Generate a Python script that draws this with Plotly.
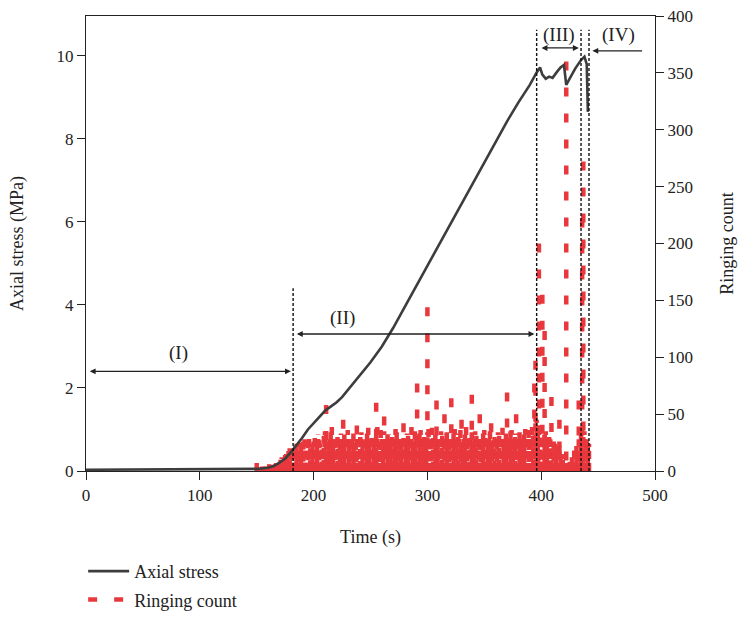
import plotly.graph_objects as go

# ---------------- data ----------------
stress_time = [0, 50, 100, 140, 150, 160, 165, 170, 175, 180, 185, 190, 195, 200, 205, 210,
               215, 220, 225, 230, 235, 240, 250, 260, 270, 280, 290, 300, 310, 320, 330,
               340, 350, 360, 370, 380, 390, 396, 399, 401, 404, 407, 410, 414, 417, 420,
               422, 425, 430, 435, 438, 440, 441]
stress_mpa = [0.03, 0.04, 0.04, 0.05, 0.05, 0.08, 0.12, 0.2, 0.3, 0.45, 0.62, 0.8, 1.0, 1.15,
              1.3, 1.45, 1.55, 1.65, 1.78, 1.95, 2.12, 2.3, 2.62, 3.0, 3.45, 3.95, 4.45, 4.95,
              5.45, 5.95, 6.45, 6.95, 7.45, 7.95, 8.42, 8.88, 9.3, 9.6, 9.72, 9.55, 9.45, 9.5,
              9.47, 9.62, 9.72, 9.78, 9.3, 9.45, 9.7, 9.9, 9.98, 9.8, 8.65]

# dense low-level acoustic emission (even seconds)
ring_time_even = [150, 152, 154, 156, 158, 160, 162, 164, 166, 168,
                  170, 172, 174, 176, 178, 180, 182, 184, 186, 188, 190, 192, 194, 196, 198,
                  200, 202, 204, 206, 208, 210, 212, 214, 216, 218, 220, 222, 224, 226, 228,
                  230, 232, 234, 236, 238,
                  240, 242, 244, 246, 248, 250, 252, 254, 256, 258, 260, 262, 264, 266, 268,
                  270, 272, 274, 276, 278,
                  280, 282, 284, 286, 288, 290, 292, 294, 296, 298, 300, 302, 304, 306, 308,
                  310, 312, 314, 316, 318,
                  320, 322, 324, 326, 328, 330, 332, 334, 336, 338, 340, 342, 344, 346, 348,
                  350, 352, 354, 356, 358,
                  360, 362, 364, 366, 368, 370, 372, 374, 376, 378, 380, 382, 384, 386, 388,
                  390, 392, 394, 396, 398,
                  400, 402, 404, 406, 408, 410, 412, 414, 416, 418, 420, 422, 424, 426, 428,
                  430, 432, 434, 436, 438, 440, 442]
ring_count_even = [10, 2, 3, 2, 4, 3, 5, 4, 6, 5,
                   8, 12, 10, 15, 18, 14, 20, 22, 17, 25, 19, 28, 22, 30, 24,
                   26, 20, 32, 24, 18, 35, 22, 28, 40, 25, 30, 21, 33, 27, 19, 36, 24, 29, 22, 31,
                   25, 34, 20, 28, 38, 23, 30, 26, 42, 21, 29, 35, 24, 32, 27, 20, 37, 25, 30, 22,
                   28, 33, 24, 40, 26, 31, 22, 36, 29, 25, 34, 27, 38, 23, 30, 26, 35, 21, 32, 28,
                   30, 24, 37, 27, 33, 22, 29, 40, 25, 31, 26, 35, 23, 30, 28, 36, 24, 32, 27, 21,
                   29, 34, 25, 38, 27, 31, 23, 36, 28, 33, 26, 30, 24, 37, 29, 35, 40, 32, 45, 38,
                   30, 25, 35, 22, 28, 18, 24, 20, 26, 15, 12, 8, 5, 6, 10, 14, 20, 26, 30, 35, 28, 24]

# dense low-level acoustic emission (odd seconds)
ring_time_odd = [151, 153, 155, 157, 159, 161, 163, 165, 167, 169,
                 171, 173, 175, 177, 179, 181, 183, 185, 187, 189, 191, 193, 195, 197, 199,
                 201, 203, 205, 207, 209, 211, 213, 215, 217, 219, 221, 223, 225, 227, 229,
                 231, 233, 235, 237, 239,
                 241, 243, 245, 247, 249, 251, 253, 255, 257, 259, 261, 263, 265, 267, 269,
                 271, 273, 275, 277, 279,
                 281, 283, 285, 287, 289, 291, 293, 295, 297, 299, 301, 303, 305, 307, 309,
                 311, 313, 315, 317, 319,
                 321, 323, 325, 327, 329, 331, 333, 335, 337, 339, 341, 343, 345, 347, 349,
                 351, 353, 355, 357, 359,
                 361, 363, 365, 367, 369, 371, 373, 375, 377, 379, 381, 383, 385, 387, 389,
                 391, 393, 395, 397, 399,
                 401, 403, 405, 407, 409, 411, 413, 415, 417, 419, 421, 423, 425, 427, 429,
                 431, 433, 435, 437, 439, 441]
ring_count_odd = [3, 1, 4, 2, 3, 6, 4, 5, 7, 6,
                  10, 9, 14, 12, 20, 16, 18, 24, 15, 21, 26, 18, 27, 20, 23,
                  29, 23, 27, 19, 31, 26, 24, 34, 22, 27, 30, 25, 20, 32, 28, 23, 26, 33, 25, 28,
                  30, 22, 27, 33, 24, 29, 21, 31, 26, 36, 23, 28, 32, 25, 30, 24, 34, 27, 22, 29,
                  24, 31, 27, 22, 35, 28, 33, 25, 30, 23, 37, 26, 29, 32, 24, 28, 31, 26, 34, 25,
                  27, 33, 25, 30, 36, 24, 32, 26, 29, 34, 22, 31, 27, 25, 33, 29, 23, 35, 26, 30,
                  26, 31, 28, 24, 33, 29, 35, 25, 30, 27, 34, 22, 32, 28, 36, 26, 31, 42, 35, 40,
                  28, 32, 24, 30, 20, 26, 22, 17, 14, 10, 7, 4, 8, 12, 18, 22, 28, 32, 30, 26, 22]

# isolated larger events
ring_time_peak = [211, 226, 238, 255, 262, 279, 291, 300, 308, 315, 321, 330, 339, 346, 356,
                  370, 378, 394, 395, 398, 401, 403, 409, 416, 422, 433, 436, 437]
ring_count_peak = [58, 45, 40, 60, 48, 42, 77, 144, 62, 50, 64, 45, 67, 50, 42,
                   69, 50, 77, 97, 200, 155, 123, 65, 45, 360, 62, 222, 272]

x_ticks = [0, 100, 200, 300, 400, 500]
stress_ticks = [0, 2, 4, 6, 8, 10]
count_ticks = [0, 50, 100, 150, 200, 250, 300, 350, 400]

# stage boundaries (s) and labels
boundary_time = [182, 396, 435, 442]
boundary_top = [4.4, 10.63, 10.63, 10.63]
stage_labels = ["(I)", "(II)", "(III)", "(IV)"]
stage_label_x = [81, 225, 416, 468]
stage_label_y = [2.84, 3.69, 10.5, 10.5]

# ---------------- figure ----------------
FONT = "Liberation Serif"
RED = "#e8383d"

base_x, base_y = [], []
for t, c in zip(ring_time_even, ring_count_even):
    base_x += [t, t, None]
    base_y += [0, c, None]
for t, c in zip(ring_time_odd, ring_count_odd):
    base_x += [t, t, None]
    base_y += [c, 0, None]

peak_x, peak_y = [], []
for t, c in zip(ring_time_peak, ring_count_peak):
    peak_x += [t, t, None]
    peak_y += [c, 0, None]

fig = go.Figure()
fig.add_trace(go.Scatter(x=stress_time, y=stress_mpa, mode="lines", name="Axial stress",
                         yaxis="y2", line=dict(color="#3d3d3d", width=2.6)))
fig.add_trace(go.Scatter(x=peak_x, y=peak_y, mode="lines", name="Ringing count",
                         legendgroup="ring", yaxis="y",
                         line=dict(color=RED, width=4.5, dash="9px,17px")))
fig.add_trace(go.Scatter(x=base_x, y=base_y, mode="lines", name="Ringing count",
                         legendgroup="ring", showlegend=False, yaxis="y",
                         line=dict(color=RED, width=4.5, dash="8px,4px")))

shapes = []
for t, top in zip(boundary_time, boundary_top):
    shapes.append(dict(type="line", xref="x", yref="y2", x0=t, x1=t, y0=0, y1=top,
                       line=dict(color="#111111", width=1.4, dash="3px,2px")))

ann = []
arrow_style = dict(xref="x", yref="y2", axref="x", ayref="y2", text="", showarrow=True,
                   arrowhead=2, arrowsize=0.9, arrowwidth=1.3, arrowcolor="#222222",
                   standoff=0, startstandoff=0)
ann.append(dict(x=180, y=2.4, ax=2, ay=2.4, arrowside="end+start", startarrowhead=2,
                startarrowsize=0.9, **arrow_style))
ann.append(dict(x=394, y=3.3, ax=184, ay=3.3, arrowside="end+start", startarrowhead=2,
                startarrowsize=0.9, **arrow_style))
ann.append(dict(x=433, y=10.19, ax=399, ay=10.19, arrowside="end+start", startarrowhead=2,
                startarrowsize=0.9, **arrow_style))
ann.append(dict(x=445, y=10.12, ax=490, ay=10.12, arrowside="end", **arrow_style))
for lab, lx, ly in zip(stage_labels, stage_label_x, stage_label_y):
    ann.append(dict(x=lx, y=ly, xref="x", yref="y2", text=lab, showarrow=False,
                    font=dict(family=FONT, size=19, color="#222222")))

axis_common = dict(ticks="outside", ticklen=8, tickcolor="#222", showline=True,
                   linecolor="#222", linewidth=1.2, showgrid=False, zeroline=False,
                   automargin=False, tickfont=dict(size=17))

fig.update_layout(
    width=741, height=618,
    margin=dict(l=86, r=86, t=16, b=147, autoexpand=False),
    paper_bgcolor="white", plot_bgcolor="white",
    font=dict(family=FONT, size=17, color="#222222"),
    xaxis=dict(range=[0, 500], tickvals=x_ticks, mirror=True,
               title=dict(text="Time (s)", font=dict(size=18), standoff=26), **axis_common),
    yaxis=dict(range=[0, 400], tickvals=count_ticks, side="right",
               title=dict(text="Ringing count", font=dict(size=18), standoff=28), **axis_common),
    yaxis2=dict(range=[0, 10.96], tickvals=stress_ticks, side="left", overlaying="y",
                title=dict(text="Axial stress (MPa)", font=dict(size=18), standoff=28),
                **axis_common),
    legend=dict(x=-0.005, y=-0.18, xanchor="left", yanchor="top", font=dict(size=18),
                bgcolor="rgba(0,0,0,0)", tracegroupgap=2, itemwidth=41),
    shapes=shapes, annotations=ann,
)

fig.write_html("out.html")
